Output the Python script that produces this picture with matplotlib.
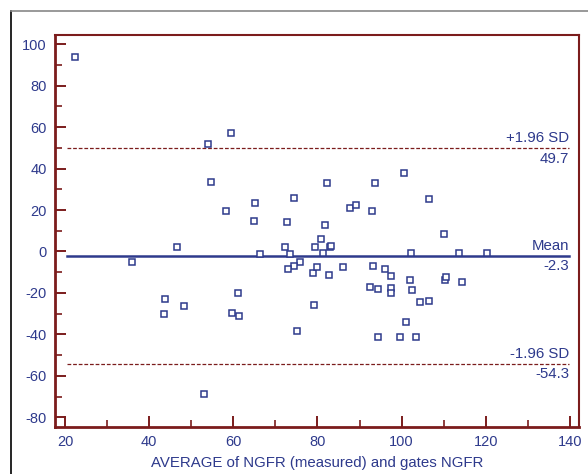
import numpy as np
import matplotlib
matplotlib.use('Agg')
import matplotlib.pyplot as plt
from matplotlib.ticker import MultipleLocator
from matplotlib.lines import Line2D

plt.rcParams['font.family'] = ['Liberation Sans', 'DejaVu Sans']
plt.rcParams['axes.unicode_minus'] = False

# averages (x) and differences (y)
avg = [22.4, 54.0, 59.4, 54.7, 58.3, 65.1, 64.9, 72.8, 74.3, 100.6,
       82.3, 93.7, 87.8, 89.1, 93.0, 106.4, 81.8, 110.1, 80.8, 46.5,
       66.4, 72.3, 73.5, 75.9, 74.5, 72.9, 78.9, 79.3, 83.0, 83.2,
       81.3, 102.2, 113.6, 120.2, 79.8, 82.7, 86.1, 93.2, 96.1, 97.5,
       101.9, 110.4, 110.6, 114.3, 92.6, 94.4, 97.5, 97.5, 102.5, 104.4,
       106.6, 79.1, 101.0, 75.1, 94.4, 99.5, 103.5, 35.8, 43.8, 43.6,
       48.3, 59.6, 61.3, 61.1, 53.1]
diff = [93.7, 51.7, 57.2, 33.4, 19.7, 23.6, 14.7, 14.2, 25.6, 38.0,
        33.1, 33.1, 20.8, 22.3, 19.3, 25.2, 12.8, 8.3, 5.8, 2.0,
        -1.2, 2.0, -1.2, -5.0, -7.0, -8.4, -10.5, 2.1, 2.0, 2.6,
        -0.9, -0.5, -0.9, -0.6, -7.4, -11.3, -7.4, -7.0, -8.5, -11.9,
        -13.6, -13.7, -12.3, -14.7, -17.2, -18.0, -17.8, -19.9, -18.7, -24.2,
        -23.7, -25.7, -34.0, -38.4, -41.4, -41.4, -41.4, -5.1, -22.8, -30.2,
        -26.3, -29.7, -31.1, -20.2, -68.6]

mean_diff = -2.3
upper = 49.7
lower = -54.3
line_x = [20.4, 139.8]

navy = '#2e3a8c'
red = '#7b1c1c'

fig = plt.figure(figsize=(5.88, 4.74), dpi=100)
ax = fig.add_axes([55 / 588, 1 - 427 / 474, (578.7 - 55) / 588, (427 - 34.5) / 474])

ax.plot(line_x, [mean_diff, mean_diff], color=navy, lw=1.8, zorder=2)
ax.plot(line_x, [upper, upper], color=red, lw=0.9, ls=(0, (3, 1.5)), zorder=2)
ax.plot(line_x, [lower, lower], color=red, lw=0.9, ls=(0, (3, 1.5)), zorder=2)

ax.plot(avg, diff, ls='none', marker='s', ms=5, mfc='white', mec=navy, mew=1.1, zorder=3)

tx = line_x[1]
for val, name in [(upper, '+1.96 SD'), (mean_diff, 'Mean'), (lower, '-1.96 SD')]:
    ax.text(tx, val + 1.5, name, ha='right', va='bottom', color=navy, fontsize=10.8)
    ax.text(tx, val - 1.5, f'{val:.1f}', ha='right', va='top', color=navy, fontsize=10.8)

ax.set_xlim(17.6, 142.1)
ax.set_ylim(-84.7, 104.7)
ax.xaxis.set_major_locator(MultipleLocator(20))
ax.xaxis.set_minor_locator(MultipleLocator(10))
ax.yaxis.set_major_locator(MultipleLocator(20))
ax.yaxis.set_minor_locator(MultipleLocator(10))

for side in ['left', 'bottom']:
    ax.spines[side].set_color(red)
    ax.spines[side].set_linewidth(2)
for side in ['top', 'right']:
    ax.spines[side].set_color(red)
    ax.spines[side].set_linewidth(1.5)

ax.tick_params(which='major', direction='in', length=8, width=1.4, color=red,
               labelcolor=navy, labelsize=10.5, top=False, right=False)
ax.tick_params(which='minor', direction='in', length=5, width=1.2, color=red,
               top=False, right=False)
ax.tick_params(axis='y', pad=6)
ax.tick_params(axis='x', pad=6)

ax.set_xlabel('AVERAGE of NGFR (measured) and gates NGFR', color=navy, fontsize=10.8, labelpad=5)

# outer frame
fig.add_artist(Line2D([11 / 588, 11 / 588], [0, 1 - 11 / 474], color='black', lw=1.2))
fig.add_artist(Line2D([11 / 588, 1], [1 - 11 / 474, 1 - 11 / 474], color='#888888', lw=1.2))

fig.savefig('out.png', dpi=100)
